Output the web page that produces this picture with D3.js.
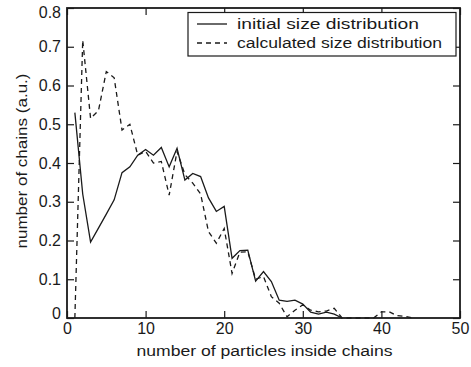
<!DOCTYPE html>
<html>
<head>
<meta charset="utf-8">
<script src="https://cdn.jsdelivr.net/npm/d3@7"></script>
<style>
  body { margin: 0; background: #fff; }
  text { font-family: "Liberation Sans", Arial, sans-serif; fill: #1a1a1a; }
</style>
</head>
<body>
<div id="chart"></div>
<script>
// chain size data, x = number of particles per chain
var particles = d3.range(1, 45);
var initialDist = [0.53, 0.32, 0.196, 0.232, 0.268, 0.305, 0.375, 0.39, 0.42, 0.435,
  0.42, 0.44, 0.39, 0.438, 0.356, 0.373, 0.365, 0.31, 0.275, 0.288,
  0.154, 0.174, 0.175, 0.095, 0.12, 0.094, 0.046, 0.043, 0.046, 0.036,
  0.015, 0.01, 0.015, 0.01, 0];
var calcDist = [0, 0.717, 0.515, 0.535, 0.636, 0.62, 0.485, 0.5, 0.42, 0.43,
  0.4, 0.404, 0.317, 0.43, 0.37, 0.348, 0.32, 0.223, 0.193, 0.231,
  0.115, 0.17, 0.171, 0.1, 0.107, 0.055, 0.038, 0.003, 0.02, 0.034,
  0.02, 0.016, 0.018, 0.025, 0, 0, 0, 0, 0, 0.016,
  0.016, 0.006, 0.004, 0];
var xTicks = [0, 10, 20, 30, 40, 50];
var yTicks = [0, 0.1, 0.2, 0.3, 0.4, 0.5, 0.6, 0.7, 0.8];
var seriesNames = ["initial size distribution", "calculated size distribution"];

var W = 471, H = 367;
var pLeft = 67, pRight = 460, pTop = 8, pBottom = 318;
var ink = "#1a1a1a";

var x = d3.scaleLinear().domain([0, 50]).range([pLeft, pRight]);
var y = d3.scaleLinear().domain([0, 0.8]).range([pBottom, pTop]);

var svg = d3.select("#chart").append("svg")
  .attr("width", W)
  .attr("height", H);

var yFmt = function (d) { return d === 0 ? "0" : d3.format(".1f")(d); };

// axes, ticks pointing inward like matlab
var gx = svg.append("g").attr("transform", "translate(0," + pBottom + ")")
  .call(d3.axisBottom(x).tickValues(xTicks).tickSizeInner(-7).tickSizeOuter(0).tickPadding(5));
svg.append("g").attr("transform", "translate(0," + pTop + ")")
  .call(d3.axisTop(x).tickValues(xTicks).tickSizeInner(-7).tickSizeOuter(0).tickFormat(""));
var gy = svg.append("g").attr("transform", "translate(" + pLeft + ",0)")
  .call(d3.axisLeft(y).tickValues(yTicks).tickSizeInner(-7).tickSizeOuter(0).tickPadding(6).tickFormat(yFmt));
svg.append("g").attr("transform", "translate(" + pRight + ",0)")
  .call(d3.axisRight(y).tickValues(yTicks).tickSizeInner(-7).tickSizeOuter(0).tickFormat(""));

svg.selectAll(".domain").remove();
svg.selectAll(".tick line").attr("stroke", ink).attr("stroke-width", 1.2);
svg.selectAll(".tick text").style("font-size", "16px").attr("fill", ink);

// matlab nudges the end labels inward
gy.selectAll(".tick text").attr("dy", function (d) {
  if (d === 0.8) return "0.62em";
  if (d === 0) return "0.05em";
  return "0.32em";
});

// data lines
var line = d3.line()
  .x(function (d, i) { return x(particles[i]); })
  .y(function (d) { return y(d); });

svg.append("path")
  .datum(initialDist)
  .attr("d", line)
  .attr("fill", "none")
  .attr("stroke", ink)
  .attr("stroke-width", 1.3);

svg.append("path")
  .datum(calcDist)
  .attr("d", line)
  .attr("fill", "none")
  .attr("stroke", ink)
  .attr("stroke-width", 1.3)
  .attr("stroke-dasharray", "5,4");

// frame
svg.append("rect")
  .attr("x", pLeft).attr("y", pTop)
  .attr("width", pRight - pLeft).attr("height", pBottom - pTop)
  .attr("fill", "none")
  .attr("stroke", ink)
  .attr("stroke-width", 1.8);

// axis titles
svg.append("text")
  .attr("x", (pLeft + pRight) / 2 + 1)
  .attr("y", 356)
  .attr("text-anchor", "middle")
  .style("font-size", "14px")
  .attr("textLength", 256)
  .attr("lengthAdjust", "spacingAndGlyphs")
  .text("number of particles inside chains");

svg.append("text")
  .attr("transform", "translate(27," + 161 + ") rotate(-90)")
  .attr("text-anchor", "middle")
  .style("font-size", "14px")
  .attr("textLength", 175)
  .attr("lengthAdjust", "spacingAndGlyphs")
  .text("number of chains (a.u.)");

// legend
var lg = svg.append("g");
lg.append("rect")
  .attr("x", 188).attr("y", 12.5)
  .attr("width", 268).attr("height", 43.5)
  .attr("fill", "#fff")
  .attr("stroke", ink)
  .attr("stroke-width", 1.2);

var legendWidths = [182, 205];
seriesNames.forEach(function (name, i) {
  var ly = 24 + i * 19;
  lg.append("line")
    .attr("x1", 197).attr("x2", 227)
    .attr("y1", ly).attr("y2", ly)
    .attr("stroke", ink)
    .attr("stroke-width", 1.3)
    .attr("stroke-dasharray", i === 1 ? "5,4" : null);
  lg.append("text")
    .attr("x", 237)
    .attr("y", ly + 5)
    .style("font-size", "14px")
    .attr("textLength", legendWidths[i])
    .attr("lengthAdjust", "spacingAndGlyphs")
    .text(name);
});
</script>
</body>
</html>
